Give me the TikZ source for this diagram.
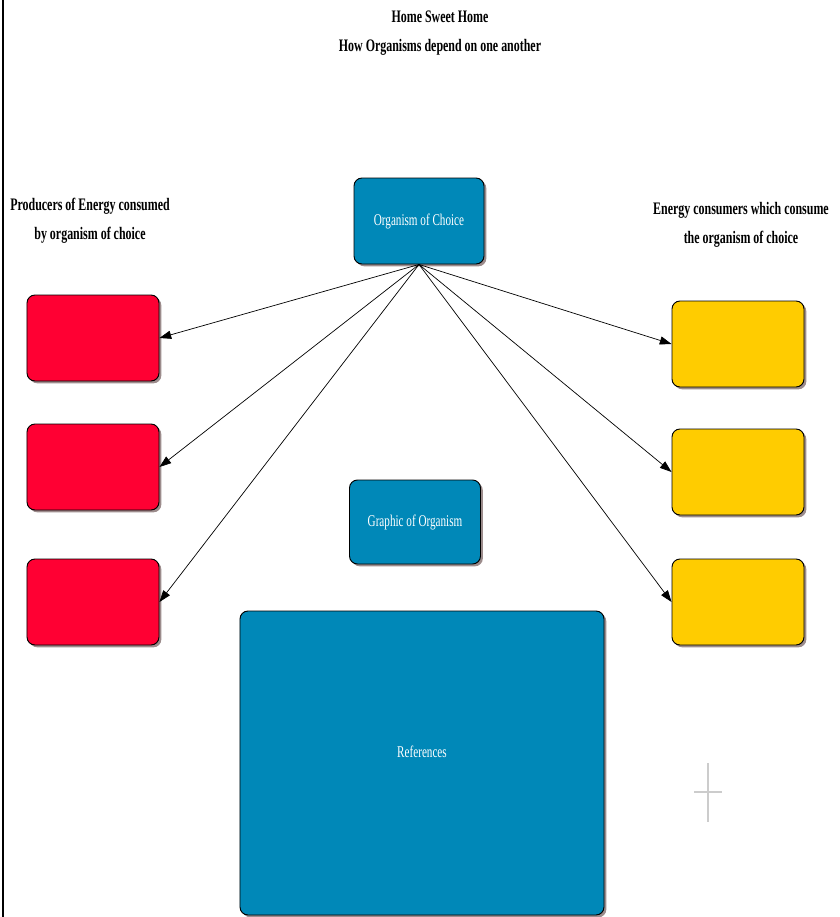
\documentclass[tikz,border=0pt]{standalone}
\usepackage{fontspec}
\newfontfamily\condfont[FakeStretch=0.68]{Liberation Serif}
\usetikzlibrary{arrows.meta,shadows}
\definecolor{orgblue}{HTML}{0088B8}
\definecolor{prodred}{HTML}{FF0033}
\definecolor{consyellow}{HTML}{FFCC00}
\definecolor{shadowgray}{HTML}{9C8C8C}
\tikzset{
  card/.style={draw=black, thick, rounded corners=0.24cm, inner sep=0pt,
    drop shadow={shadow xshift=0.07cm, shadow yshift=-0.07cm, fill=shadowgray, opacity=1},
    minimum width=3.96cm, minimum height=2.58cm, text=white,
    font=\condfont\fontsize{14}{16}\selectfont},
  heading/.style={align=center, font=\condfont\bfseries\fontsize{15}{24.5}\selectfont}
}

\begin{document}
\begin{tikzpicture}[x=0.03cm, y=-0.03cm]
    \useasboundingbox (0,0) rectangle (840,917);
    \draw[line width=1.2pt] (3,0) -- (3,917);

    \node[heading] (title) at (440,33) {Home Sweet Home\\How Organisms depend on one another};
    \node[heading] (prodlabel) at (90,221) {Producers of Energy consumed\\by organism of choice};
    \node[heading] (conslabel) at (741,225) {Energy consumers which consume\\the organism of choice};

    \node[card, fill=orgblue, minimum width=3.9cm] (org) at (419,221) {Organism of Choice};
    \node[card, fill=orgblue, minimum width=3.93cm, minimum height=2.52cm] (graphic) at (415,522) {Graphic of Organism};
    \node[card, fill=orgblue, minimum width=10.92cm, minimum height=9.12cm, text depth=20pt] (refs) at (422,763) {References};

    \node[card, fill=prodred] (p1) at (93,338) {};
    \node[card, fill=prodred] (p2) at (93,467) {};
    \node[card, fill=prodred] (p3) at (93,602) {};

    \node[card, fill=consyellow] (c1) at (738,344) {};
    \node[card, fill=consyellow] (c2) at (738,472) {};
    \node[card, fill=consyellow] (c3) at (738,602) {};

    \path[-{Triangle[length=10pt,width=7pt]}, black, semithick]
    (org.south) edge (p1.east)
    (org.south) edge (p2.east)
    (org.south) edge (p3.east)
    (org.south) edge (c1.west)
    (org.south) edge (c2.west)
    (org.south) edge (c3.west);

    \draw[black!20, line width=1.2pt] (694,792) -- (722,792) (708,763) -- (708,822);
\end{tikzpicture}
\end{document}
